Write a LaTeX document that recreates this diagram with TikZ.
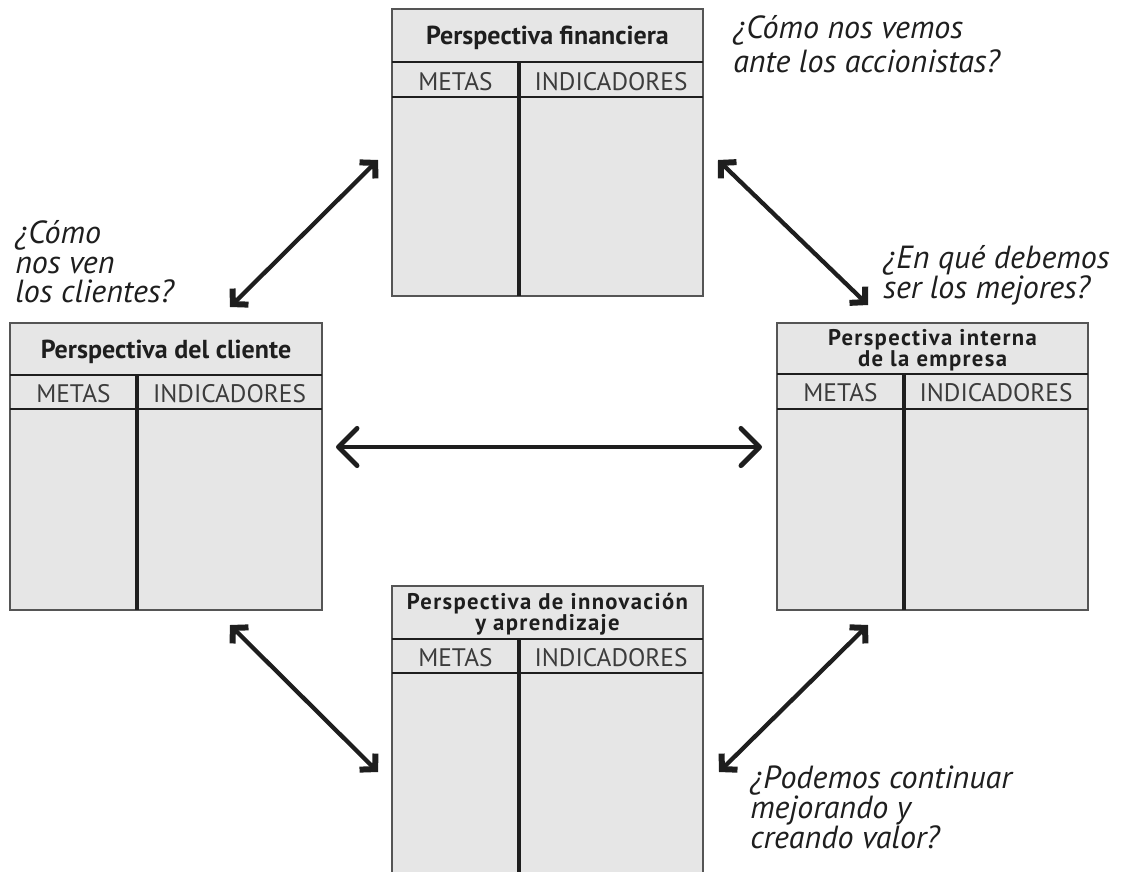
\documentclass[tikz,border=0pt]{standalone}
\usepackage{fontspec}
\setmainfont{PT Sans}
\usetikzlibrary{arrows.meta}
\definecolor{boxfill}{HTML}{E6E6E6}
\definecolor{boxedge}{HTML}{555555}
\definecolor{inkdark}{HTML}{1E1E1E}
\definecolor{hdrtext}{HTML}{3C3C3C}
\newcommand\bscpanel[7]{%
  \filldraw[fill=boxfill, draw=boxedge, line width=2.2pt] (#1,#2) rectangle (#3,#4);
  \draw[draw=inkdark, line width=2.2pt] (#1,#5) -- (#3,#5);
  \draw[draw=inkdark, line width=2.2pt] (#1,#6) -- (#3,#6);
  \draw[draw=inkdark, line width=3.2pt] (#7,#5) -- (#7,#4);
}
\begin{document}
\begin{tikzpicture}[x=0.75pt,y=-0.75pt,
  ttl/.style={inner sep=0pt, anchor=base, font=\bfseries\fontsize{19.5}{20}\selectfont, text=inkdark},
  ttlsmall/.style={inner sep=0pt, anchor=base, font=\bfseries\fontsize{17}{17}\selectfont\addfontfeature{LetterSpace=6}, text=inkdark},
  hdr/.style={inner sep=0pt, anchor=base, font=\fontsize{19}{20}\selectfont, text=hdrtext},
  quest/.style={inner sep=0pt, anchor=base west, font=\itshape\fontsize{24}{26}\selectfont, text=inkdark},
  dlink/.style={draw=inkdark, line width=3.2pt,
     {Straight Barb[length=8pt,width=17pt,line width=4.5pt,sharp]}-{Straight Barb[length=8pt,width=17pt,line width=4.5pt,sharp]}},
  hlink/.style={draw=inkdark, line width=3.6pt,
     {Straight Barb[length=14pt,width=28pt,line width=3.6pt,round]}-{Straight Barb[length=14pt,width=28pt,line width=3.6pt,round]}}
]
\clip (0,0) rectangle (1135,871);
\fill[white] (0,0) rectangle (1135,871);

% panels
\bscpanel{392}{9}{703}{296}{62}{97}{519}
\bscpanel{10}{323}{322}{610}{375}{409}{137}
\bscpanel{777}{323}{1088}{610}{374}{409}{904}
\bscpanel{392}{586}{703}{900}{639}{673}{519}

% financiera
\node[ttl] (fin-title) at (547.5,44) {Perspectiva financiera};
\node[hdr] (fin-metas) at (455.5,90) {METAS};
\node[hdr] (fin-ind) at (611,90) {INDICADORES};
% cliente
\node[ttl] (cli-title) at (166,358) {Perspectiva del cliente};
\node[hdr] (cli-metas) at (73.5,402) {METAS};
\node[hdr] (cli-ind) at (229.5,402) {INDICADORES};
% interna
\node[ttlsmall] (int-title1) at (932.5,345) {Perspectiva interna};
\node[ttlsmall] (int-title2) at (932.5,366) {de la empresa};
\node[hdr] (int-metas) at (840.5,401) {METAS};
\node[hdr] (int-ind) at (996,401) {INDICADORES};
% innovacion
\node[ttlsmall] (inn-title1) at (547.5,609) {Perspectiva de innovación};
\node[ttlsmall] (inn-title2) at (547.5,630) {y aprendizaje};
\node[hdr] (inn-metas) at (455.5,666) {METAS};
\node[hdr] (inn-ind) at (611,666) {INDICADORES};

% questions
\node[quest] (q-fin1) at (733,38) {¿Cómo nos vemos};
\node[quest] (q-fin2) at (733,72) {ante los accionistas?};
\node[quest] (q-cli1) at (15,243) {¿Cómo};
\node[quest] (q-cli2) at (15,273) {nos ven};
\node[quest] (q-cli3) at (15,302) {los clientes?};
\node[quest] (q-int1) at (883,268) {¿En qué debemos};
\node[quest] (q-int2) at (883,298) {ser los mejores?};
\node[quest] (q-inn1) at (750,788) {¿Podemos continuar};
\node[quest] (q-inn2) at (750,818) {mejorando y};
\node[quest] (q-inn3) at (750,848) {creando valor?};

% arrow end points
\coordinate (a-tl-s) at (230,307);
\coordinate (a-tl-e) at (378,160);
\coordinate (a-tr-s) at (718,160);
\coordinate (a-tr-e) at (868,305);
\coordinate (a-bl-s) at (230,625);
\coordinate (a-bl-e) at (378,772);
\coordinate (a-br-s) at (719,772);
\coordinate (a-br-e) at (868,625);
\coordinate (a-h-s) at (336,447);
\coordinate (a-h-e) at (762,447);

\draw[dlink] (a-tl-s) -- (a-tl-e);
\draw[dlink] (a-tr-s) -- (a-tr-e);
\draw[dlink] (a-bl-s) -- (a-bl-e);
\draw[dlink] (a-br-s) -- (a-br-e);
\draw[hlink] (a-h-s) -- (a-h-e);
\end{tikzpicture}
\end{document}
